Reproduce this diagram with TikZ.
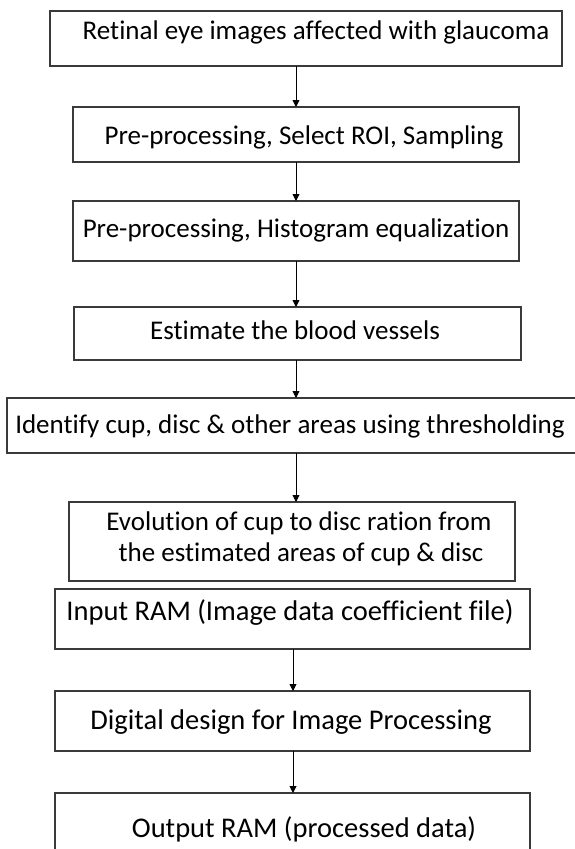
\documentclass[tikz,border=0pt]{standalone}
\usepackage{fontspec}
\setmainfont{Carlito}[Ligatures={NoCommon,NoRequired,NoContextual}]
\usetikzlibrary{arrows.meta}
\definecolor{edge}{HTML}{3A3A3A}
\tikzset{
  stage/.style={draw=edge, line width=1.2pt, fill=none},
  lbl/.style={anchor=base, inner sep=0pt, font=\fontsize{27}{32}\selectfont},
  lblbig/.style={lbl, font=\fontsize{28.5}{34}\selectfont},
  flow/.style={draw=black, line width=0.9pt, -{Triangle[length=7pt,width=7pt]}},
}
\begin{document}
\begin{tikzpicture}[x=1pt,y=-1pt]
  \useasboundingbox (0,0) rectangle (574,849);
  \fill[white] (0,0) rectangle (574,849);

  % stage outlines
  \draw[stage] (50,11) rectangle (562,66);   \coordinate (b1s) at (296,66);
  \draw[stage] (73,107) rectangle (519,162); \coordinate (b2n) at (296,107); \coordinate (b2s) at (296,162);
  \draw[stage] (73,201) rectangle (519,261); \coordinate (b3n) at (296,201); \coordinate (b3s) at (296,261);
  \draw[stage] (74,307) rectangle (521,360); \coordinate (b4n) at (296,307); \coordinate (b4s) at (296,360);
  \draw[stage] (7,398) rectangle (580,453);  \coordinate (b5n) at (296,398); \coordinate (b5s) at (296,453);
  \draw[stage] (69,502) rectangle (515,581); \coordinate (b6n) at (296,502);
  \draw[stage] (55,589) rectangle (530,649); \coordinate (b7s) at (293,649);
  \draw[stage] (55,691) rectangle (530,751); \coordinate (b8n) at (293,691); \coordinate (b8s) at (293,751);
  \draw[stage] (55,793) rectangle (530,870); \coordinate (b9n) at (293,793);

  % stage texts
  \node[lbl] (t1) at (316,39) {Retinal eye images affected with glaucoma};
  \node[lbl] (t2) at (304,144) {Pre-processing, Select ROI, Sampling};
  \node[lbl] (t3) at (296,237) {Pre-processing, Histogram equalization};
  \node[lbl] (t4) at (295,339) {Estimate the blood vessels};
  \node[lbl] (t5) at (290,433) {Identify cup, disc \& other areas using thresholding};
  \node[lbl] (t6a) at (299,530) {Evolution of cup to disc ration from};
  \node[lbl] (t6b) at (301,561) {the estimated areas of cup \& disc};
  \node[lblbig] (t7) at (290,620) {Input RAM (Image data coefficient file)};
  \node[lblbig] (t8) at (291,729) {Digital design for Image Processing};
  \node[lblbig] (t9) at (304,837) {Output RAM (processed data)};

  % connectors
  \draw[flow] (b1s) -- (b2n);
  \draw[flow] (b2s) -- (b3n);
  \draw[flow] (b3s) -- (b4n);
  \draw[flow] (b4s) -- (b5n);
  \draw[flow] (b5s) -- (b6n);
  \draw[flow] (b7s) -- (b8n);
  \draw[flow] (b8s) -- (b9n);
\end{tikzpicture}
\end{document}
